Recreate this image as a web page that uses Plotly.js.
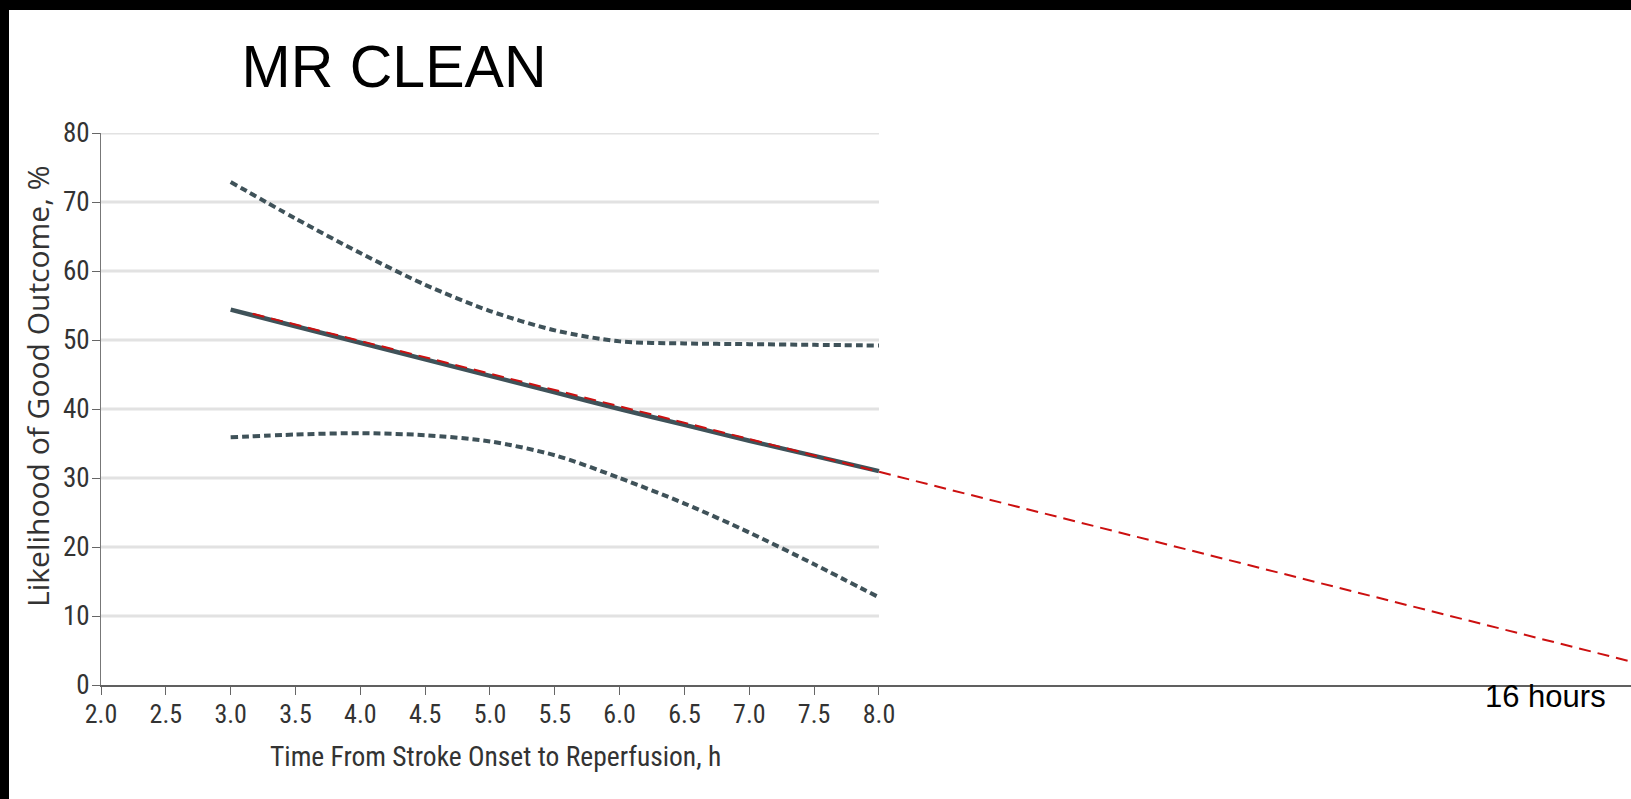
<!DOCTYPE html>
<html>
<head>
<meta charset="utf-8">
<script src="https://cdn.plot.ly/plotly-3.0.1.min.js"></script>
<style>
  html, body { margin: 0; padding: 0; background: #000; width: 1631px; height: 799px; overflow: hidden; }
  #chart { position: absolute; left: 9px; top: 10px; width: 1622px; height: 789px; background: #fff; }
</style>
</head>
<body>
<div id="chart"></div>
<script>
// ---- data ----
const chartTitle = 'MR CLEAN';
const xAxisTitle = 'Time From Stroke Onset to Reperfusion, h';
const yAxisTitle = 'Likelihood of Good Outcome, %';
const noteText = '16 hours';

const xCurve   = [3.0, 3.5, 4.0, 4.5, 5.0, 5.5, 6.0, 6.5, 7.0, 7.5, 8.0];
const estimate = [54.4, 52.0, 49.6, 47.2, 44.8, 42.4, 40.0, 37.7, 35.4, 33.2, 31.0];
const upperCI  = [72.9, 67.6, 62.6, 58.0, 54.2, 51.4, 49.8, 49.5, 49.4, 49.3, 49.2];
const lowerCI  = [35.9, 36.3, 36.5, 36.2, 35.3, 33.3, 30.0, 26.3, 22.1, 17.5, 12.7];

const extrapX = [3.17, 8.0, 13.8];
const extrapY = [53.8, 30.9, 3.4];

const xTickVals = [2.0, 2.5, 3.0, 3.5, 4.0, 4.5, 5.0, 5.5, 6.0, 6.5, 7.0, 7.5, 8.0];
const yTickVals = [0, 10, 20, 30, 40, 50, 60, 70, 80];

// ---- styles ----
const curveColor = '#3f5259';
const redColor = '#cc1010';
const condensed = '"Roboto Condensed", "DejaVu Sans Condensed", sans-serif';
const xTickFont = { family: condensed, size: 26, color: '#333333' };
const yTickFont = { family: condensed, size: 27, color: '#333333' };

const traces = [
  { x: xCurve, y: upperCI, mode: 'lines', line: { color: curveColor, width: 4, dash: '7px,4px', shape: 'spline', smoothing: 0.8 }, hoverinfo: 'skip' },
  { x: xCurve, y: lowerCI, mode: 'lines', line: { color: curveColor, width: 4, dash: '7px,4px', shape: 'spline', smoothing: 0.8 }, hoverinfo: 'skip' },
  { x: xCurve, y: estimate, mode: 'lines', line: { color: curveColor, width: 4.5, shape: 'spline', smoothing: 0.6 } },
  { x: extrapX, y: extrapY, mode: 'lines', line: { color: redColor, width: 2, dash: '12px,7px' } }
];

const gridShapes = yTickVals.filter(v => v > 0).map(v => ({
  type: 'line', xref: 'x', yref: 'y', x0: xTickVals[0], x1: xTickVals[xTickVals.length - 1], y0: v, y1: v,
  line: { color: '#e2e2e2', width: 3 }, layer: 'below'
}));

const layout = {
  width: 1622, height: 789,
  margin: { l: 92, r: 0, t: 123, b: 114, pad: 0 },
  paper_bgcolor: '#ffffff', plot_bgcolor: '#ffffff',
  showlegend: false,
  title: { text: chartTitle, xref: 'container', yref: 'container', x: 0.2374, y: 0.928, xanchor: 'center', yanchor: 'middle',
           font: { family: '"Liberation Sans", Arial, sans-serif', size: 59, color: '#000000' } },
  xaxis: {
    range: [2, 13.8], showgrid: false, zeroline: false,
    showline: true, linecolor: '#606060', linewidth: 2,
    tickmode: 'array', tickvals: xTickVals, ticktext: xTickVals.map(v => v.toFixed(1)),
    ticks: 'outside', ticklen: 8, tickwidth: 1, tickcolor: '#666666',
    tickfont: xTickFont, ticklabelstandoff: -3
  },
  yaxis: {
    range: [0, 80], showgrid: false, zeroline: false,
    showline: true, linecolor: '#777777', linewidth: 1,
    tickmode: 'array', tickvals: yTickVals,
    ticks: 'outside', ticklen: 8, tickwidth: 1, tickcolor: '#666666',
    tickfont: yTickFont, ticklabelstandoff: -3
  },
  shapes: gridShapes,
  annotations: [
    { text: yAxisTitle, xref: 'paper', yref: 'paper', x: -0.0412, y: 0.5417, xanchor: 'center', yanchor: 'middle',
      textangle: -90, showarrow: false, font: { family: '"Open Sans", sans-serif', size: 30, color: '#333333' } },
    { text: xAxisTitle, xref: 'paper', yref: 'paper', x: 0.258, y: -0.1304, xanchor: 'center', yanchor: 'middle',
      showarrow: false, font: { family: condensed, size: 27.5, color: '#333333' } },
    { text: noteText, xref: 'paper', yref: 'paper', x: 0.944, y: -0.0217, xanchor: 'center', yanchor: 'middle',
      showarrow: false, font: { family: '"Liberation Sans", Arial, sans-serif', size: 31, color: '#000000' } }
  ]
};

Plotly.newPlot('chart', traces, layout, { displayModeBar: false, staticPlot: true });
</script>
</body>
</html>
